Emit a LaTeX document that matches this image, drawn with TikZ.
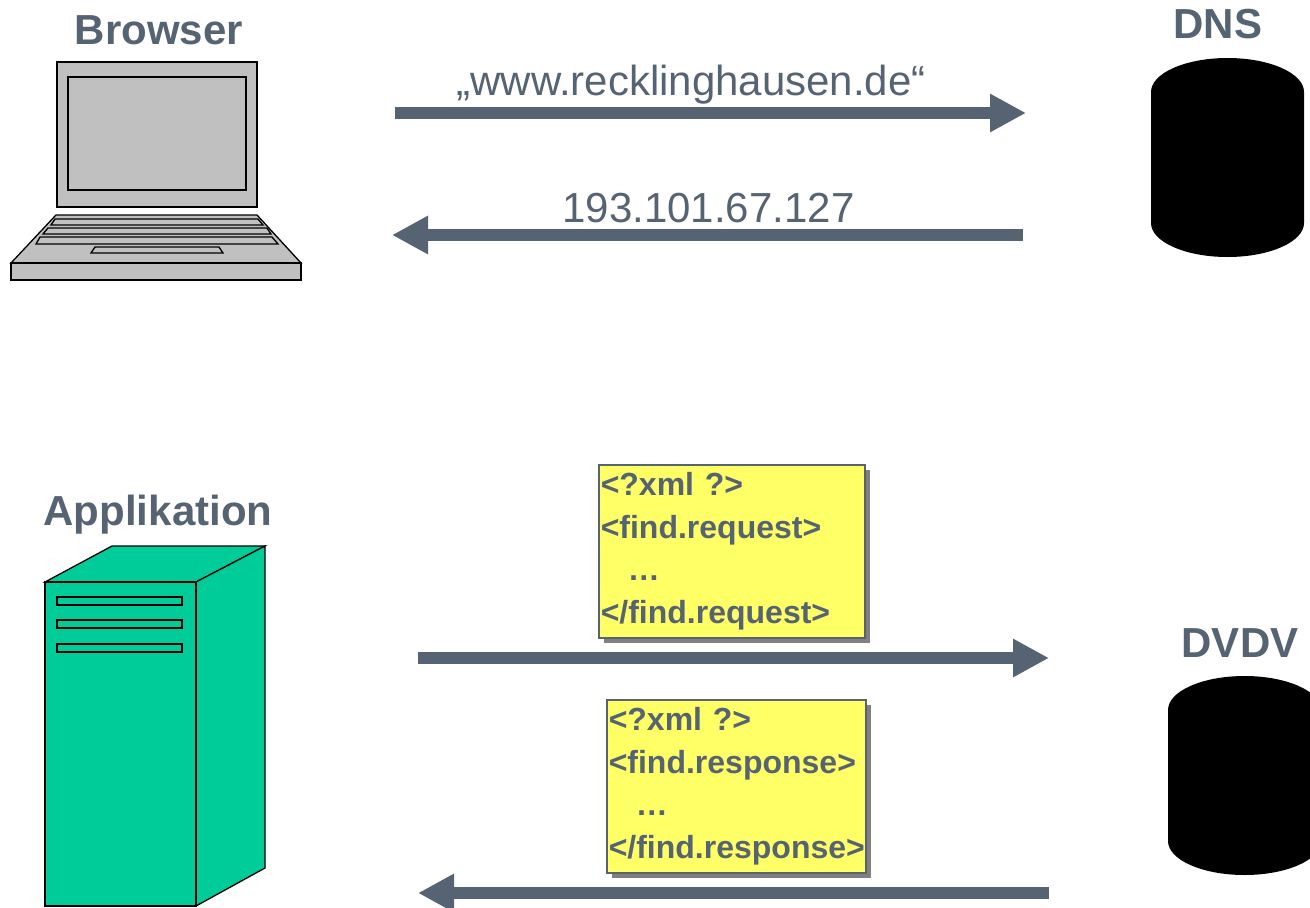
\documentclass[tikz,border=0pt]{standalone}
\usepackage{fontspec}
\setmainfont{Liberation Sans}
\usetikzlibrary{arrows.meta,shadows}
\definecolor{slate}{HTML}{566373}
\definecolor{notey}{HTML}{FFFF66}
\definecolor{srvgreen}{HTML}{00CC99}
\definecolor{lapgray}{HTML}{C0C0C0}
\tikzset{
  title/.style={font=\fontsize{42}{42}\selectfont\bfseries,text=slate,inner sep=0pt,anchor=base},
  msg/.style={font=\fontsize{42}{42}\selectfont,text=slate,inner sep=0pt,anchor=base},
  bigarrow/.style={draw=slate,line width=12pt,-{Triangle[length=36pt,width=36pt]},shorten >=0pt},
  outline/.style={draw=black,line width=1.3pt,line join=miter},
  laptop/.style={outline,fill=lapgray},
  server/.style={outline,fill=srvgreen},
  notebox/.style={draw=slate,line width=1.5pt,fill=notey,anchor=north west,inner sep=2pt,
    align=left,text=slate,font=\fontsize{32}{42.7}\selectfont\bfseries,
    drop shadow={shadow xshift=5.5pt,shadow yshift=-5.5pt,opacity=1,fill=gray}},
}
\newcommand{\dbcyl}[2]{% left x, top y
  \fill[black] (#1,#2+34) arc[start angle=180,end angle=0,x radius=76.5pt,y radius=34pt]
    -- (#1+153,#2+165) arc[start angle=360,end angle=180,x radius=76.5pt,y radius=34pt] -- cycle;
}
\begin{document}
\begin{tikzpicture}[x=1pt,y=-1pt]
\useasboundingbox (0,0) rectangle (1310,908);
\begin{scope}
\clip (0,0) rectangle (1310,908);

% titles
\node[title] (tbrowser) at (159,44) {Browser};
\node[title] (tdns) at (1218,38) {DNS};
\node[title] (tappl) at (158,525) {Applikation};
\node[title] (tdvdv) at (1240,657) {DVDV};

% laptop
\draw[laptop] (57,62) rectangle (257,207);
\draw[laptop] (68,77) rectangle (246,190);
\draw[laptop] (56,215) -- (257,215) -- (301,263) -- (11,263) -- cycle;
\draw[laptop] (11,263) rectangle (301,280);
\draw[laptop] (55,219) -- (258,219) -- (263,225) -- (51,225) -- cycle;
\draw[laptop] (48,228) -- (267,228) -- (271,234) -- (43,234) -- cycle;
\draw[laptop] (40,237) -- (272,237) -- (278,244) -- (36,244) -- cycle;
\draw[laptop] (95,247) -- (219,247) -- (223,253) -- (91,253) -- cycle;

% server
\draw[server] (45,582) -- (112,546) -- (265,546) -- (196,582) -- cycle;
\draw[server] (196,582) -- (265,546) -- (265,868) -- (196,906) -- cycle;
\draw[server] (45,582) rectangle (196,906);
\draw[server] (57,597) rectangle (182,605);
\draw[server] (57,620) rectangle (182,628);
\draw[server] (57,644) rectangle (182,652);

% databases
\dbcyl{1151}{58}
\dbcyl{1168}{676}

% messages
\node[msg] (mname) at (691,95) {„www.recklinghausen.de“};
\node[msg] (mip) at (708.5,222) {193.101.67.127};

% arrow ends
\coordinate (a1s) at (395,113);
\coordinate (a1e) at (1026,113);
\coordinate (a2s) at (1023,235);
\coordinate (a2e) at (392,235);
\coordinate (a3s) at (418,658);
\coordinate (a3e) at (1049,658);
\coordinate (a4s) at (1049,893);
\coordinate (a4e) at (418,893);
\draw[bigarrow] (a1s) -- (a1e);
\draw[bigarrow] (a2s) -- (a2e);
\draw[bigarrow] (a3s) -- (a3e);
\draw[bigarrow] (a4s) -- (a4e);

% notes
\node[notebox,text width=262pt,minimum height=173pt] (req) at (598,464)
  {<?xml ?>\\<find.request>\\\hspace*{27pt}…\\</find.request>};
\node[notebox,text width=255pt,minimum height=173pt] (resp) at (606,699)
  {<?xml ?>\\<find.response>\\\hspace*{27pt}…\\</find.response>};
\end{scope}
\end{tikzpicture}
\end{document}
